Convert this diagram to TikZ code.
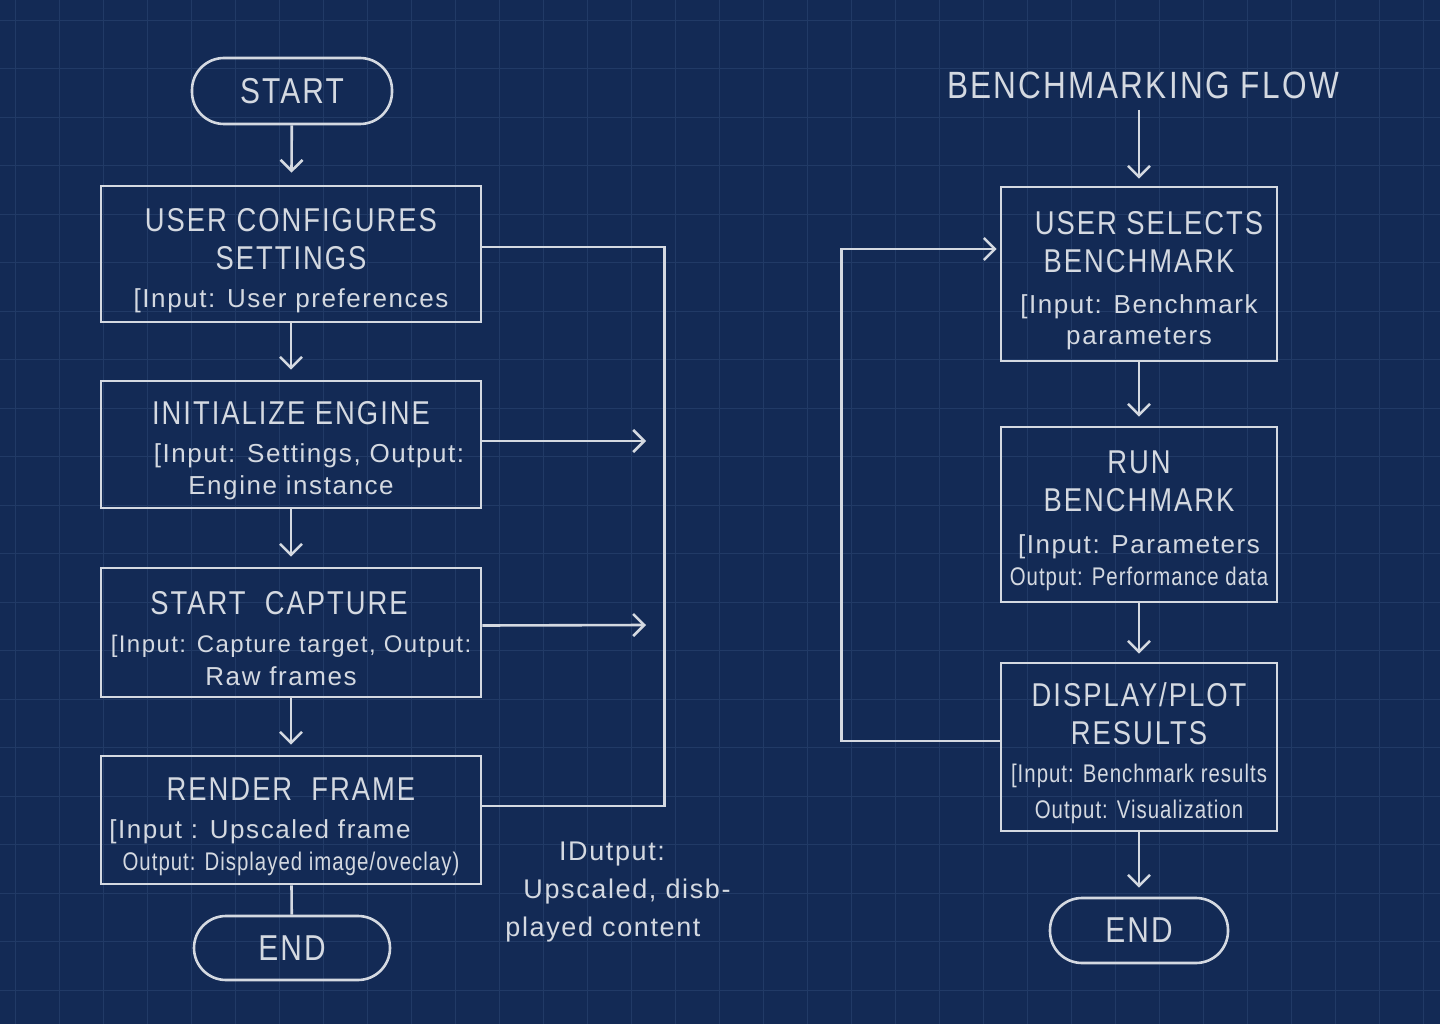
\documentclass[tikz,border=0pt]{standalone}
\usepackage{fontspec}
\setmainfont{Liberation Sans}[LetterSpace=6]
\newfontfamily\headfam{Liberation Sans}[LetterSpace=6,FakeStretch=0.83]
\newfontfamily\narrowfam{Liberation Sans}[LetterSpace=4,FakeStretch=0.8]
\usetikzlibrary{arrows.meta}
\definecolor{Navy}{HTML}{132A55}
\definecolor{GridLine}{HTML}{213A66}
\definecolor{Chalk}{HTML}{D4D9E1}

\newcommand\headfont{\headfam\fontsize{33}{38}\selectfont}
\newcommand\termfont{\headfam\fontsize{36}{40}\selectfont}
\newcommand\infofont{\normalfont\fontsize{26}{32}\selectfont}
\newcommand\narrowinfo{\narrowfam\fontsize{25.5}{32}\selectfont}
\newcommand\lift{\rule{0pt}{36pt}}
\newcommand\nudge[1]{\rule{#1}{0pt}}

\tikzset{
  procbox/.style={draw=Chalk, line width=2.6pt, text=Chalk, align=center, font=\headfont, inner sep=0pt},
  termbox/.style={draw=Chalk, line width=2.6pt, text=Chalk, rounded corners=32pt, font=\termfont, inner sep=0pt},
  flow/.style={draw=Chalk, line width=2.6pt, -{Straight Barb[length=11pt,width=22pt]}},
  link/.style={draw=Chalk, line width=2.6pt},
  gridline/.style={draw=GridLine, line width=0.8pt}
}

\begin{document}
\begin{tikzpicture}[x=1pt,y=-1pt]
  \useasboundingbox (0,0) rectangle (1440,1024);
  \fill[Navy] (0,0) rectangle (1440,1024);
  \foreach \gx in {15,59,...,1440} \draw[gridline] (\gx,0) -- (\gx,1024);
  \foreach \gy in {20,68.5,...,1024} \draw[gridline] (0,\gy) -- (1440,\gy);

  % main pipeline
  \node[termbox, minimum width=200pt, minimum height=66pt] (start) at (292,91) {START};
  \node[procbox, minimum width=380pt, minimum height=136pt] (cfg) at (291,254)
    {\lift USER CONFIGURES\\SETTINGS\\\infofont [Input: User preferences};
  \node[procbox, minimum width=380pt, minimum height=127pt] (init) at (291,444.5)
    {\lift INITIALIZE ENGINE\\\infofont\nudge{36pt}[Input: Settings, Output:\\[-6pt]\infofont Engine instance};
  \node[procbox, minimum width=380pt, minimum height=129pt] (capture) at (291,632.5)
    {\lift START\ \ CAPTURE\nudge{24pt}\\\normalfont\fontsize{24}{32}\selectfont [Input: Capture target, Output:\\[-5pt]\infofont Raw frames\nudge{20pt}};
  \node[procbox, minimum width=380pt, minimum height=128pt] (render) at (291,820)
    {\lift RENDER\ \ FRAME\\\infofont [Input : Upscaled frame\nudge{62pt}\\[-6pt]\narrowinfo Output: Displayed image/oveclay)};
  \node[termbox, minimum width=196pt, minimum height=64pt] (end1) at (292,948) {END};

  \draw[flow, shorten >=12pt] (start) -- (cfg);
  \draw[flow, shorten >=10pt] (cfg) -- (init);
  \draw[flow, shorten >=10pt] (init) -- (capture);
  \draw[flow, shorten >=10pt] (capture) -- (render);
  \draw[link] (render) -- (end1);

  % output bus
  \coordinate (busA) at (646,441);
  \coordinate (busB) at (646,625);
  \draw[link] ([yshift=7pt]cfg.east) -- ++(182,0) |- ([yshift=14pt]render.east);
  \draw[flow] (init.east |- busA) -- (busA);
  \draw[flow] ([yshift=7pt]capture.east) -- (busB);
  \node[text=Chalk, align=center, font=\fontsize{27}{38}\selectfont] (outlbl) at (612,892)
    {IDutput:\\\nudge{30pt}Upscaled, disb-\\played content\nudge{18pt}};

  % benchmarking
  \node[text=Chalk, font=\headfam\fontsize{38}{42}\selectfont] (bench) at (1143,85) {BENCHMARKING FLOW};
  \node[procbox, minimum width=276pt, minimum height=174pt] (select) at (1139,274)
    {\lift\nudge{20pt}USER SELECTS\\BENCHMARK\\[3pt]\infofont [Input: Benchmark\\[-7pt]\infofont parameters};
  \node[procbox, minimum width=276pt, minimum height=175pt] (run) at (1139,514.5)
    {\lift RUN\\BENCHMARK\\[4pt]\infofont [Input: Parameters\\[-6pt]\narrowinfo Output: Performance data};
  \node[procbox, minimum width=276pt, minimum height=168pt] (plot) at (1139,747)
    {\lift DISPLAY/PLOT\\RESULTS\\\narrowinfo [Input: Benchmark results\\[-2pt]\narrowinfo Output: Visualization};
  \node[termbox, minimum width=178pt, minimum height=65pt] (end2) at (1139,930.5) {END};

  \draw[flow, shorten <=8pt, shorten >=7pt] (select.north |- bench.south) -- (select.north);
  \draw[flow, shorten >=9pt] (select) -- (run);
  \draw[flow, shorten >=8pt] (run) -- (plot);
  \draw[flow, shorten >=9pt] (plot) -- (plot.south |- end2.north);
  \draw[flow, shorten >=3pt] ([yshift=6pt]plot.west) -- ++(-158,0) |- ([yshift=25pt]select.west);
\end{tikzpicture}
\end{document}
